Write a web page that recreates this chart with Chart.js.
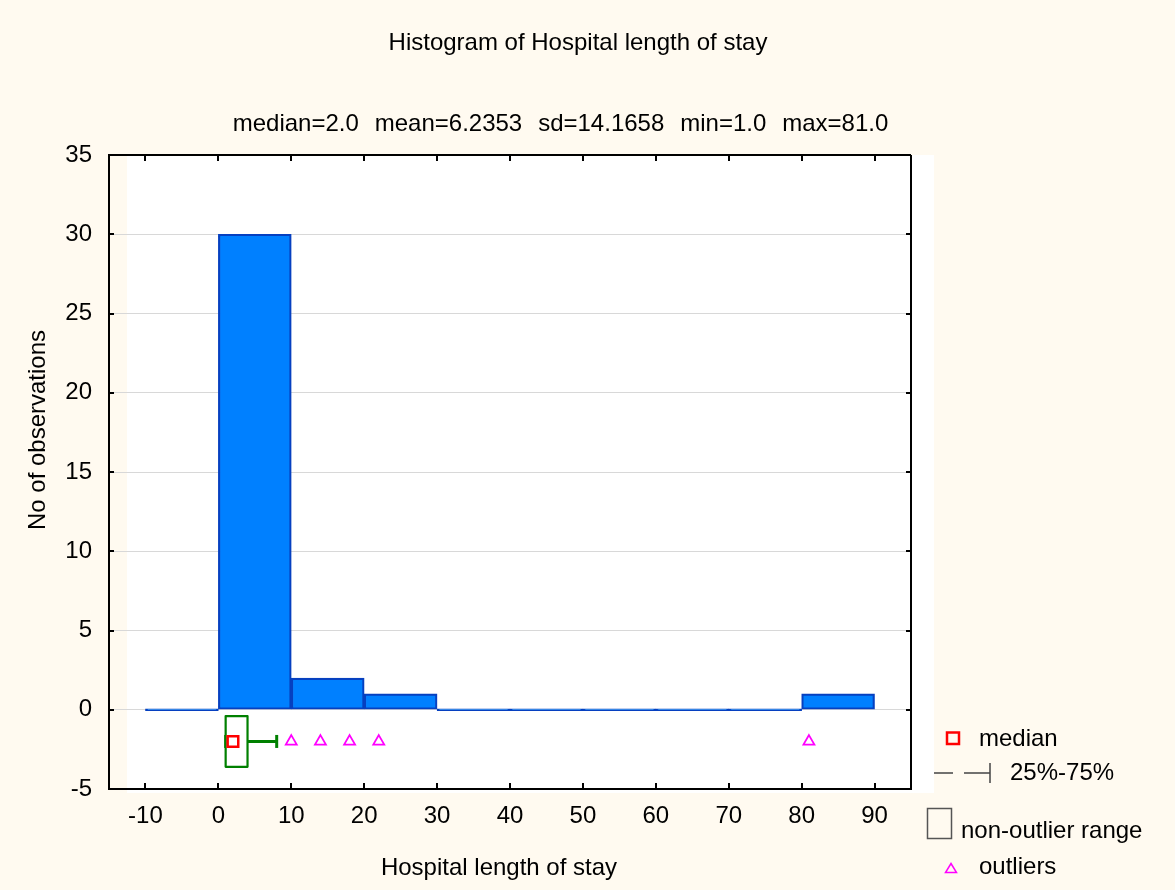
<!DOCTYPE html>
<html><head><meta charset="utf-8">
<script src="https://cdn.jsdelivr.net/npm/chart.js@4/dist/chart.umd.min.js"></script>
<style>html,body{margin:0;padding:0;background:#fffaf0;} canvas{display:block;}</style>
</head><body>
<canvas id="c" width="1175" height="890"></canvas>
<script>
// ---- data ----
const titleText = 'Histogram of Hospital length of stay';
const statsText = 'median=2.0  mean=6.2353  sd=14.1658  min=1.0  max=81.0';
const xAxisTitle = 'Hospital length of stay';
const yAxisTitle = 'No of observations';
const binStarts = [-10, 0, 10, 20, 30, 40, 50, 60, 70, 80];
const binCounts = [0, 30, 2, 1, 0, 0, 0, 0, 0, 1];
const binWidth = 10;
const xTicks = [-10, 0, 10, 20, 30, 40, 50, 60, 70, 80, 90];
const yTicks = [-5, 0, 5, 10, 15, 20, 25, 30, 35];
const medianValue = 2;
const quartileRange = [1, 8];
const nonOutlierRange = [1, 4];
const outlierValues = [10, 14, 18, 22, 81];
const legendLabels = ['median', '25%-75%', 'non-outlier range', 'outliers'];

// ---- styles ----
const FONT_FAMILY = "'Liberation Sans', Arial, sans-serif";
const FONT = "24px " + FONT_FAMILY;
const BOX_Y = -2, BOX_HALF = 1.6;
const GREEN = '#008000', RED = '#ff0000', MAGENTA = '#ff00ff';

const histData = binStarts.map((s, i) => ({x: s + binWidth / 2, y: binCounts[i]}));

const bgPlugin = {
  id: 'bg',
  beforeDraw(chart) {
    const {ctx, chartArea: a} = chart;
    ctx.save();
    ctx.fillStyle = '#fffaf0';
    ctx.fillRect(0, 0, chart.width, chart.height);
    ctx.fillStyle = '#ffffff';
    ctx.fillRect(a.left + 18, a.top, (a.right + 23) - (a.left + 18), (a.bottom + 4) - a.top);
    ctx.restore();
  }
};

const boxPlugin = {
  id: 'boxrect',
  afterDatasetDraw(chart, args) {
    if (args.index !== 2) return;
    const {ctx} = chart;
    const xs = chart.scales.x, ys = chart.scales.y;
    const l = xs.getPixelForValue(nonOutlierRange[0]);
    const r = xs.getPixelForValue(nonOutlierRange[1]);
    const t = ys.getPixelForValue(BOX_Y + BOX_HALF);
    const b = ys.getPixelForValue(BOX_Y - BOX_HALF);
    ctx.save();
    ctx.fillStyle = '#ffffff';
    ctx.fillRect(l, t, r - l, b - t);
    ctx.strokeStyle = GREEN;
    ctx.lineWidth = 2.2;
    ctx.lineJoin = 'round';
    ctx.strokeRect(l, t, r - l, b - t);
    ctx.restore();
  }
};

const framePlugin = {
  id: 'frame',
  afterDraw(chart) {
    const {ctx, chartArea: a} = chart;
    const xs = chart.scales.x, ys = chart.scales.y;
    ctx.save();
    ctx.strokeStyle = '#000';
    ctx.lineWidth = 2;
    ctx.beginPath();
    ctx.moveTo(a.left, a.top); ctx.lineTo(a.right, a.top);
    ctx.moveTo(a.right, a.top); ctx.lineTo(a.right, a.bottom + 1);
    ctx.moveTo(a.left, a.bottom); ctx.lineTo(a.right + 1, a.bottom);
    ctx.moveTo(a.left, a.top - 1); ctx.lineTo(a.left, a.bottom + 1);
    xTicks.forEach(v => {
      const px = Math.round(xs.getPixelForValue(v));
      ctx.moveTo(px, a.bottom); ctx.lineTo(px, a.bottom - 6);
      ctx.moveTo(px, a.top); ctx.lineTo(px, a.top + 6);
    });
    yTicks.forEach(v => {
      const py = Math.round(ys.getPixelForValue(v));
      ctx.moveTo(a.left, py); ctx.lineTo(a.left + 5, py);
      ctx.moveTo(a.right, py); ctx.lineTo(a.right - 5, py);
    });
    ctx.stroke();

    // texts
    ctx.fillStyle = '#000';
    ctx.font = FONT;
    ctx.textBaseline = 'alphabetic';
    ctx.textAlign = 'center';
    ctx.fillText(titleText, 578, 50);
    ctx.save();
    if ('wordSpacing' in ctx) ctx.wordSpacing = '1.3px';
    ctx.fillText(statsText, 560.5, 131);
    ctx.restore();
    ctx.fillText(xAxisTitle, 499, 875);
    ctx.save();
    ctx.translate(45, 430);
    ctx.rotate(-Math.PI / 2);
    ctx.fillText(yAxisTitle, 0, 0);
    ctx.restore();

    // legend
    ctx.textAlign = 'left';
    // median
    ctx.strokeStyle = RED; ctx.lineWidth = 2.5;
    ctx.strokeRect(947, 732.5, 12, 11.5);
    ctx.fillText(legendLabels[0], 979, 746);
    // 25%-75%
    ctx.strokeStyle = '#444'; ctx.lineWidth = 1.5;
    ctx.beginPath();
    ctx.moveTo(934, 773); ctx.lineTo(953, 773);
    ctx.moveTo(964, 773); ctx.lineTo(990, 773);
    ctx.moveTo(990, 763); ctx.lineTo(990, 783);
    ctx.stroke();
    ctx.fillText(legendLabels[1], 1010, 780);
    // non-outlier range
    ctx.strokeStyle = '#555'; ctx.lineWidth = 1.5;
    ctx.strokeRect(927.5, 808.5, 24, 30);
    ctx.fillText(legendLabels[2], 961, 838);
    // outliers
    ctx.strokeStyle = MAGENTA; ctx.lineWidth = 1.5;
    ctx.beginPath();
    ctx.moveTo(951, 863.5); ctx.lineTo(956.5, 872.5); ctx.lineTo(945.5, 872.5); ctx.closePath();
    ctx.stroke();
    ctx.fillText(legendLabels[3], 979, 874);
    ctx.restore();
  }
};

new Chart(document.getElementById('c'), {
  type: 'scatter',
  data: {
    datasets: [
      { // 0 median
        type: 'scatter',
        data: [{x: medianValue, y: BOX_Y}],
        pointStyle: 'rect', pointRadius: 7.5,
        pointBackgroundColor: '#ffffff', pointBorderColor: RED, pointBorderWidth: 2.5
      },
      { // 1 outliers
        type: 'scatter',
        data: outlierValues.map(v => ({x: v, y: BOX_Y})),
        pointStyle: 'triangle', pointRadius: 6.3,
        pointBackgroundColor: 'rgba(0,0,0,0)', pointBorderColor: MAGENTA, pointBorderWidth: 1.8
      },
      { // 2 whisker (25%-75%)
        type: 'line',
        data: quartileRange.map(v => ({x: v, y: BOX_Y})),
        borderColor: GREEN, borderWidth: 3,
        pointStyle: 'line', pointRotation: 90, pointRadius: 6.5,
        pointBorderColor: GREEN, pointBorderWidth: 3, fill: false
      },
      { // 3 histogram
        type: 'bar',
        data: histData,
        backgroundColor: '#0080ff',
        borderColor: '#0640c0',
        borderWidth: 2.2,
        borderSkipped: false,
        minBarLength: 2,
        barPercentage: 1,
        categoryPercentage: 1,
        grouped: false
      }
    ]
  },
  options: {
    responsive: false,
    animation: false,
    events: [],
    layout: {padding: {top: 155, right: 264, left: 0, bottom: 0}},
    plugins: {legend: {display: false}, tooltip: {enabled: false}, title: {display: false}},
    scales: {
      x: {
        type: 'linear', min: -15, max: 95, offset: false,
        afterBuildTicks: s => { s.ticks = xTicks.map(v => ({value: v})); },
        afterFit: s => { s.height = 101; },
        grid: {display: false, drawTicks: false, offset: false},
        border: {display: false},
        ticks: {color: '#000', font: {family: FONT_FAMILY, size: 24}, padding: 13, maxRotation: 0, autoSkip: false}
      },
      y: {
        type: 'linear', min: -5, max: 35,
        afterBuildTicks: s => { s.ticks = yTicks.map(v => ({value: v})); },
        afterFit: s => { s.width = 109; },
        grid: {display: true, drawTicks: false, color: '#d8d8d8', lineWidth: 1},
        border: {display: false},
        ticks: {color: '#000', font: {family: FONT_FAMILY, size: 24}, padding: 17, autoSkip: false}
      }
    }
  },
  plugins: [bgPlugin, boxPlugin, framePlugin]
});
</script>
</body></html>
